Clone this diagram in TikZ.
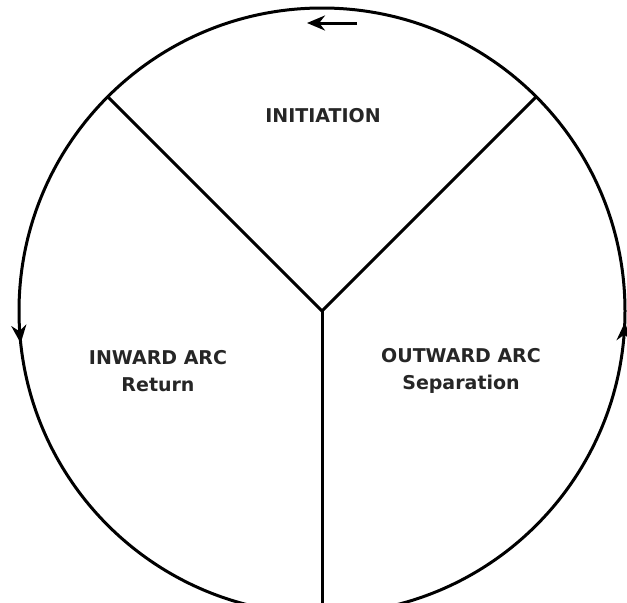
\documentclass[tikz,border=0pt]{standalone}
\usepackage{fontspec}
\setsansfont{DejaVu Sans}
\usetikzlibrary{arrows.meta,decorations.markings}

\begin{document}
\begin{tikzpicture}[
    x=0.5pt, y=0.5pt,
    every node/.style={font=\sffamily\bfseries\fontsize{9.5}{13.5}\selectfont, text=black!85},
    lbl/.style={align=center, inner sep=1pt},
    wheeltip/.tip={Stealth[length=9pt,width=7.5pt]},
    rim/.style={line width=1.5pt, postaction={decorate},
                decoration={markings,
                  mark=at position 0.517 with {\arrow{wheeltip}},
                  mark=at position 0.994 with {\arrow{wheeltip}}}},
    spoke/.style={line width=1.5pt},
    turn/.style={line width=1.5pt, -wheeltip},
]
\useasboundingbox (0,0) rectangle (627,602);
\clip (0,0) rectangle (627,602);

% Wheel and spokes
\coordinate (hub) at (322,291);
\draw[rim] (hub) circle[radius=303];
\draw[spoke] (hub) -- ++(135:303) coordinate (nw);
\draw[spoke] (hub) -- ++(45:303)  coordinate (ne);
\draw[spoke] (hub) -- ++(270:320) coordinate (s);

% Arrow under the top of the rim
\coordinate (turnA) at (357,579);
\coordinate (turnB) at (307,579);
\draw[turn] (turnA) -- (turnB);

% Labels
\node[lbl] (init)    at (323,486) {INITIATION};
\node[lbl] (inward)  at (158,231) {INWARD ARC\\Return};
\node[lbl] (outward) at (461,231) {OUTWARD ARC\\Separation};

\end{tikzpicture}
\end{document}
